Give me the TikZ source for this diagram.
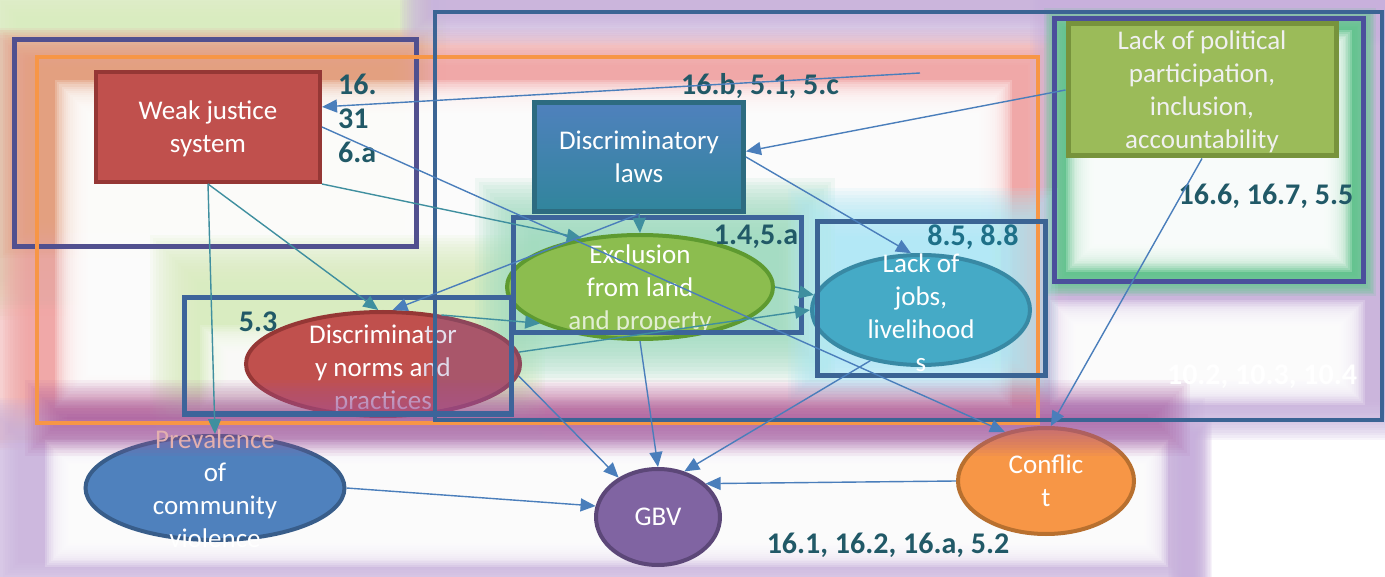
\documentclass[tikz,border=0pt]{standalone}
\usepackage{fontspec}
\setmainfont{Carlito}
\usetikzlibrary{shapes.geometric,arrows.meta,calc}
\definecolor{cGreenBg}{HTML}{D9ECBC}
\definecolor{cSalmon}{HTML}{F0A0A0}
\definecolor{cOrgBg}{HTML}{E3A07A}
\definecolor{cLav}{HTML}{C8B0DC}
\definecolor{cGreenRing}{HTML}{5FC98C}
\definecolor{cTealBg}{HTML}{9FDCC0}
\definecolor{cCyanBg}{HTML}{AEE8F6}
\definecolor{cMauve}{HTML}{A8549A}
\definecolor{cRed}{HTML}{C0504D}
\definecolor{cRedD}{HTML}{953735}
\definecolor{cBlueN}{HTML}{4F81BD}
\definecolor{cBlueD}{HTML}{385D8A}
\definecolor{cTealN}{HTML}{31859C}
\definecolor{cDLb}{HTML}{2D6B80}
\definecolor{cOlive}{HTML}{9BBB59}
\definecolor{cOliveD}{HTML}{77933C}
\definecolor{cGreenN}{HTML}{8CBD4F}
\definecolor{cGreenD}{HTML}{5E9A30}
\definecolor{cAqua}{HTML}{45AAC6}
\definecolor{cAquaD}{HTML}{3889A4}
\definecolor{cPurp}{HTML}{8064A2}
\definecolor{cPurpD}{HTML}{5C4778}
\definecolor{cOrg}{HTML}{F79646}
\definecolor{cOrgD}{HTML}{B8702F}
\definecolor{cLab}{HTML}{215967}
\definecolor{cLab2}{HTML}{1E7088}
\definecolor{cLine}{HTML}{4A7EBB}
\definecolor{cLineT}{HTML}{3F8F9F}
\definecolor{cFrBig}{HTML}{3B6494}
\definecolor{cFrLeft}{HTML}{51508F}
\definecolor{cFrRight}{HTML}{4B4F9C}
\definecolor{cFrBox}{HTML}{3D649A}
\definecolor{cFrOrg}{HTML}{F79646}
% soft-edged rectangle: colour, opacity per step, x1,y1,x2,y2, blur width
\newcommand\mysoftbox[7]{%
  \foreach \i in {0,...,15}{%
    \fill[#1,opacity=#2] ({#3+\i*#7/16},{#4+\i*#7/16}) rectangle ({#5-\i*#7/16},{#6-\i*#7/16});%
  }%
}
\tikzset{
  conn/.style={draw=cLine, line width=1.4pt, -{Triangle[length=15pt,width=13pt]}},
  connT/.style={conn, draw=cLineT},
  sdg/.style={font=\fontsize{30}{34}\selectfont\bfseries, text=cLab, inner sep=0pt},
  ntext/.style={text=white, align=center, inner sep=0pt},
  oval/.style={ellipse, line width=4pt, inner sep=0pt},
  box/.style={rectangle, line width=4pt, inner sep=0pt},
}
\begin{document}
\begin{tikzpicture}[x=1pt,y=-1pt,font=\fontsize{27}{33}\selectfont]
\useasboundingbox (0,0) rectangle (1385,577);
% ---------- background glows ----------
\fill[white] (0,0) rectangle (1385,577);
\mysoftbox{cGreenBg}{0.13}{-40}{-40}{450}{320}{60}
\mysoftbox{cSalmon}{0.12}{-10}{28}{1065}{450}{40}
\mysoftbox{cOrgBg}{0.08}{0}{30}{430}{258}{40}
\mysoftbox{white}{0.2}{55}{80}{1012}{408}{35}
\mysoftbox{cLav}{0.13}{400}{-40}{1420}{45}{35}
\mysoftbox{cLav}{0.13}{1030}{-40}{1420}{440}{40}
\mysoftbox{cGreenRing}{0.16}{1044}{8}{1376}{296}{26}
\mysoftbox{white}{0.2}{1066}{30}{1352}{272}{30}
\mysoftbox{white}{0.2}{1050}{300}{1365}{405}{30}
\mysoftbox{cGreenBg}{0.12}{150}{235}{545}{440}{50}
\mysoftbox{white}{0.15}{200}{325}{470}{410}{30}
\mysoftbox{cTealBg}{0.13}{475}{178}{835}{382}{60}
\mysoftbox{cCyanBg}{0.13}{788}{188}{1058}{402}{55}
\mysoftbox{cLav}{0.11}{-20}{398}{1205}{600}{40}
\mysoftbox{white}{0.22}{45}{440}{1168}{567}{30}
\mysoftbox{cLav}{0.14}{1168}{418}{1212}{600}{20}
% ---------- nodes ----------
\node[box, fill=cRed, draw=cRedD, minimum width=224pt, minimum height=110pt] (wjs) at (208,127) {};
\node[ntext] (wjst) at (208,129) {Weak justice\\system};
\node[box, draw=cDLb, line width=5pt, top color=cBlueN, bottom color=cTealN, minimum width=209pt, minimum height=109pt] (dl) at (639,157) {};
\node[ntext] (dlt) at (dl.center) {Discriminatory\\laws};
\node[box, fill=cOlive, draw=cOliveD, line width=5pt, minimum width=268pt, minimum height=132pt] (lpp) at (1202,90) {};
\node[ntext, text=white!94!black] (lppt) at (1202,92) {Lack of political\\participation,\\inclusion,\\accountability};
\node[oval, fill=cGreenN, draw=cGreenD, minimum width=266pt, minimum height=104pt] (excl) at (640,287) {};
\node[ntext] (exclt) at (640,289) {Exclusion\\from land\\\textcolor{white!75!cGreenN}{and property}};
\node[oval, fill=cAqua, draw=cAquaD, minimum width=218pt, minimum height=110pt] (jobs) at (921,310) {};
\node[ntext] (jobst) at (921,313) {Lack of\\jobs,\\livelihood\\s};
\node[oval, fill=cRed, draw=cRedD, minimum width=274pt, minimum height=104pt] (norms) at (383,364) {};
\begin{scope}
  \clip (383,364) ellipse [x radius=139pt, y radius=54pt];
  \fill[cPurp, opacity=0.35] (434,300) rectangle (530,420);
\end{scope}
\node[ntext] (normst) at (383,369) {Discrimina\textcolor{white!80!cPurp}{tor}\\y norms a\textcolor{white!75!cPurp}{nd}\\\textcolor{white!70!cPurp}{practices}};
\node[oval, fill=cBlueN, draw=cBlueD, minimum width=259pt, minimum height=104pt] (prev) at (215,488) {};
\node[oval, fill=cPurp, draw=cPurpD, minimum width=124pt, minimum height=96pt] (gbv) at (658,517) {};
\node[ntext] (gbvt) at (gbv.center) {GBV};
\node[oval, fill=cOrg, draw=cOrgD, minimum width=176pt, minimum height=106pt] (conf) at (1046,481) {};
\node[ntext] (conft) at (1046,481) {Conflic\\t};
% overlay band
\mysoftbox{cMauve}{0.07}{25}{380}{1190}{456}{45}
\node[ntext] (prevt) at (215,489) {\textcolor{cRed!45!white}{Prevalence}\\of\\community\\violence};
% ---------- frames ----------
\draw[cFrLeft, line width=5pt] (14,40) rectangle (416,247);
\draw[cFrOrg, line width=4pt] (37,57) rectangle (1038,423);
\draw[cFrBig, line width=4.5pt] (435,12) rectangle (1382,420);
\draw[cFrRight, line width=5pt] (1054,19) rectangle (1363,282);
\draw[cFrBox, line width=5pt] (513,218) rectangle (801,333);
\draw[cFrBig, line width=5pt] (817,222) rectangle (1045,376);
\draw[cFrBox, line width=5pt] (184,298) rectangle (511,414);
% ---------- labels ----------
\node[sdg, align=left, anchor=west] (l1) at (338,118) {16.\\31\\6.a};
\node[sdg] (l2) at (760,86) {16.b, 5.1, 5.c};
\node[sdg] (l3) at (1266,196) {16.6, 16.7, 5.5};
\node[sdg] (l4) at (756,237) {1.4,5.a};
\node[sdg, text=cLab2] (l5) at (973,237) {8.5, 8.8};
\node[sdg] (l6) at (258,322) {5.3};
\node[sdg, text=white] (l7) at (1262,377) {10.2, 10.3, 10.4};
\node[sdg] (l8) at (888,545) {16.1, 16.2, 16.a, 5.2};
% ---------- connectors ----------
\coordinate (c1) at (920,73);
\draw[conn] (c1) -- (wjs.10);
\draw[conn] (lpp.west) -- (dl.3);
\draw[conn] (dl.east) -- (jobs.100);
\draw[connT] (dl.south) -- (excl.north);
\draw[conn] (wjs.east) -- (conf.130);
\draw[connT] (wjs.south east) -- (excl.140);
\draw[connT] (wjs.south) -- (norms.95);
\draw[connT] (wjs.south) -- (prev.north);
\draw[conn] (dl.south) -- (norms.80);
\draw[connT] (norms.40) -- (excl.200);
\draw[connT] (norms.5) -- (jobs.west);
\draw[connT] (excl.east) -- (jobs.172);
\draw[conn] (norms.-5) -- (gbv.135);
\draw[conn] (excl.south) -- (gbv.north);
\draw[conn] (jobs.225) -- (gbv.60);
\draw[conn] (prev.east) -- (gbv.170);
\draw[conn] (conf.west) -- (gbv.35);
\draw[conn] (lpp.south) -- (conf.85);
\end{tikzpicture}
\end{document}
